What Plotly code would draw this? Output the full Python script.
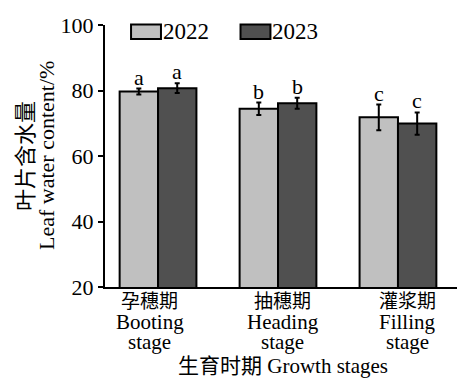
import plotly.graph_objects as go

# Data
stages_cn = ["孕穗期", "抽穗期", "灌浆期"]
stages_en = ["Booting", "Heading", "Filling"]
years = ["2022", "2023"]
water_2022 = [79.7, 74.4, 71.8]
water_2023 = [80.7, 76.1, 69.9]
err_2022 = [0.9, 1.9, 3.9]
err_2023 = [1.5, 1.7, 3.4]
letters_2022 = ["a", "b", "c"]
letters_2023 = ["a", "b", "c"]
y_ticks = [20, 40, 60, 80, 100]

FONT = "Liberation Serif, 'Noto Sans CJK SC'"
colors = ["#c0c0c0", "#505050"]
bar_w = 0.32
label_x = [-0.07, 1.04, 2.08]

fig = go.Figure()
xs = list(range(len(stages_cn)))
series = [(water_2022, err_2022, letters_2022), (water_2023, err_2023, letters_2023)]
for k, (vals, errs, lets) in enumerate(series):
    off = -bar_w if k == 0 else 0.0
    fig.add_trace(go.Bar(
        x=xs, y=vals, name=years[k], width=bar_w, offset=off,
        marker=dict(color=colors[k], line=dict(color="black", width=2)),
        error_y=dict(type="data", array=errs, visible=True,
                     color="black", thickness=2, width=2.5),
        showlegend=False,
    ))
    for i, (v, e, t) in enumerate(zip(vals, errs, lets)):
        fig.add_annotation(x=i + off + bar_w / 2, y=v + e, text=t,
                           showarrow=False, yanchor="bottom", yshift=-3,
                           font=dict(family=FONT, size=22, color="black"))

# category labels (three lines each)
for i in range(len(stages_cn)):
    for txt, dy, sz in [(stages_cn[i], -14, 19), (stages_en[i], -35, 21), ("stage", -55, 21)]:
        fig.add_annotation(x=label_x[i], y=0, xref="x", yref="paper", text=txt,
                           showarrow=False, yanchor="middle", yshift=dy,
                           font=dict(family=FONT, size=sz, color="black"))

# x axis title
fig.add_annotation(x=label_x[1], y=0, xref="x", yref="paper",
                   text="生育时期 Growth stages", showarrow=False,
                   yanchor="middle", yshift=-79,
                   font=dict(family=FONT, size=21, color="black"))

# y axis title (two lines)
for txt, dx in [("叶片含水量", -80), ("Leaf water content/%", -59)]:
    fig.add_annotation(x=0, y=0.5, xref="paper", yref="paper", text=txt,
                       showarrow=False, textangle=-90, xshift=dx,
                       xanchor="center", yanchor="middle",
                       font=dict(family=FONT, size=22, color="black"))

# legend
leg_boxes = [(0.074, 0.159), (0.385, 0.47)]
for k, (x0, x1) in enumerate(leg_boxes):
    fig.add_shape(type="rect", xref="paper", yref="paper",
                  x0=x0, x1=x1, y0=0.947, y1=1.002,
                  fillcolor=colors[k], line=dict(color="black", width=2))
    fig.add_annotation(x=x1, y=0.975, xref="paper", yref="paper", text=years[k],
                       showarrow=False, xanchor="left", yanchor="middle", xshift=0,
                       font=dict(family=FONT, size=23, color="black"))

fig.update_layout(
    width=457, height=378,
    margin=dict(l=105, r=0, t=25, b=91),
    plot_bgcolor="white", paper_bgcolor="white",
    barmode="overlay",
    showlegend=False,
    font=dict(family=FONT, size=21, color="black"),
)
fig.update_xaxes(range=[-0.442, 2.492], showticklabels=False, ticks="",
                 showgrid=False, zeroline=False, showline=True,
                 linecolor="black", linewidth=2)
fig.update_yaxes(range=[20, 100], tickvals=y_ticks, ticks="outside", ticklen=5,
                 tickwidth=2, tickcolor="black", showgrid=False, zeroline=False,
                 showline=True, linecolor="black", linewidth=2,
                 tickfont=dict(family=FONT, size=22, color="black"))

fig.write_html("out.html")
